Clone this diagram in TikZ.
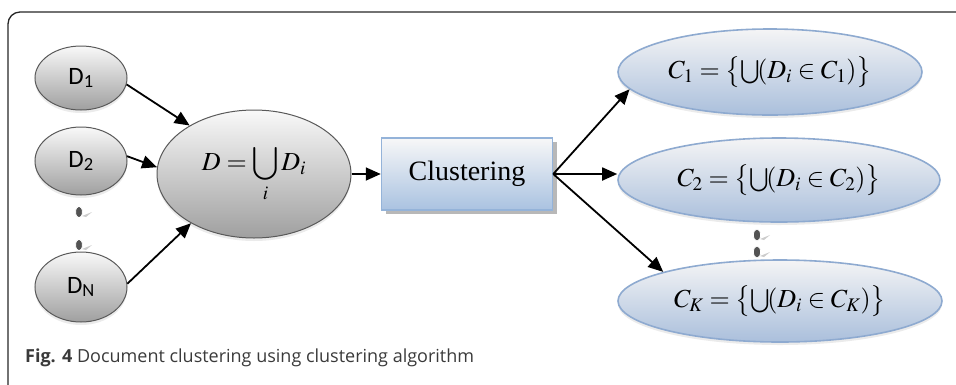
\documentclass[tikz,border=0pt]{standalone}
\usepackage{mathptmx}
\usepackage{fontspec}
\setmainfont{Liberation Serif}
\newfontfamily\calibri{Carlito}
\newfontfamily\capfont{Open Sans}
\usetikzlibrary{arrows.meta,shapes.geometric,shadows}
\definecolor{docgray}{HTML}{595959}
\definecolor{clublue}{HTML}{8EAAD0}
\definecolor{boxblue}{HTML}{94B3D9}
\definecolor{capgray}{HTML}{3A3A3A}
\newcommand{\clset}[1]{$\thickmuskip=4mu\medmuskip=3mu C_{#1}=\big\{\!\bigcup\!(D_i\in C_{#1})\big\}$}
\begin{document}
\begin{tikzpicture}[x=1pt,y=-1pt,
    doc/.style={ellipse, draw=docgray, line width=1pt, top color=white!95!gray, bottom color=gray!75,
        minimum width=92pt, minimum height=64pt, inner sep=0pt, font=\calibri\fontsize{25}{27}\selectfont,
        drop shadow={shadow xshift=0pt, shadow yshift=-3pt, fill=gray!40, opacity=.4}},
    clus/.style={ellipse, draw=clublue, line width=1.6pt, top color=blue!4!gray!8, bottom color=clublue!75,
        inner sep=0pt, font=\fontsize{26}{30}\selectfont,
        drop shadow={shadow xshift=0pt, shadow yshift=-3pt, fill=gray!40, opacity=.4}},
    dot/.style={fill=gray!65!black, draw=white, line width=.8pt},
    arr/.style={-{Triangle[length=15pt,width=13pt]}, line width=1.8pt}]
\useasboundingbox (0,0) rectangle (956,384);
\draw[line width=1.3pt, black!85, rounded corners=12pt] (8,392) -- (8,12) -- (964,12);

% documents
\node[doc] (D1) at (81,78) {D\textsubscript{1}};
\node[doc, minimum height=68pt] (D2) at (81,161) {D\textsubscript{2}};
\node[doc, minimum height=70pt] (DN) at (81,287) {D\textsubscript{N}};
\foreach \y in {212,245} {\fill[gray!40] (82,\y+4) -- (92,\y) -- (86,\y+5) -- cycle; \filldraw[dot] (79,\y) ellipse (3.4pt and 5.8pt);}
\node[doc, minimum width=194pt, minimum height=128pt, font=\fontsize{26}{30}\selectfont] (D) at (254,174) {$D=\displaystyle\bigcup_i D_i$};

% clustering
\node[draw=boxblue, line width=1.5pt, top color=blue!3!gray!6, bottom color=boxblue!80, minimum width=171pt, minimum height=72pt,
    font=\fontsize{28}{32}\selectfont, drop shadow={shadow xshift=4pt, shadow yshift=-4pt, fill=gray!70, opacity=.8}] (clust) at (467,174) {Clustering};

% clusters
\node[clus, minimum width=304pt, minimum height=86pt] (C1) at (770,72) {\clset{1}};
\node[clus, minimum width=322pt, minimum height=84pt] (C2) at (779,180) {\clset{2}};
\node[clus, minimum width=324pt, minimum height=82pt] (CK) at (780,301) {\clset{K}};
\foreach \y in {235,252} {\fill[gray!40] (760,\y+4) -- (770,\y) -- (764,\y+5) -- cycle; \filldraw[dot] (757,\y) ellipse (3.6pt and 6pt);}

\draw[arr] (D1.-8) to (D.143); \draw[arr] (D2.6) to (D.176); \draw[arr] (DN.4) to (D.218);
\draw[arr] (D.east) to (clust.west);
\draw[arr] (clust.east) to (C1.187); \draw[arr] (clust.east) to (clust.east -| C2.west); \draw[arr] (clust.east) to (CK.166);

\node[anchor=west, inner sep=0pt, font=\capfont\fontsize{18}{21}\selectfont, text=capgray] (cap) at (25,358)
    {\textbf{Fig. 4} Document clustering using clustering algorithm};
\end{tikzpicture}
\end{document}
